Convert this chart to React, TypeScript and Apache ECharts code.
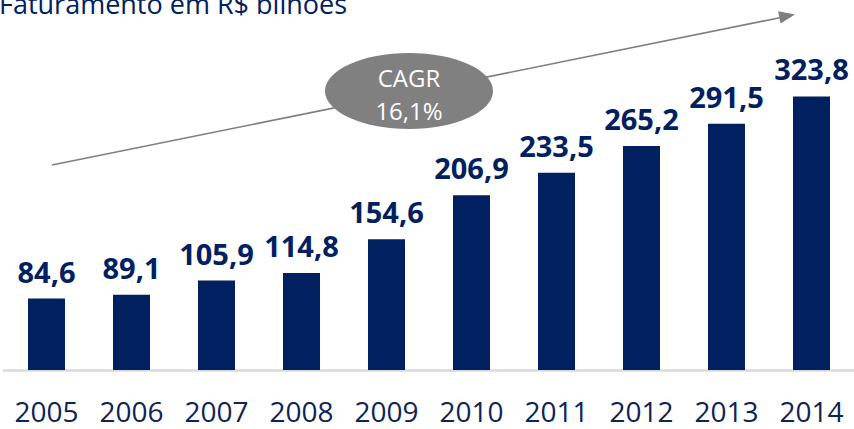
import React, { useEffect, useRef } from "react";
import * as echarts from "echarts";

const categories = ["2005", "2006", "2007", "2008", "2009", "2010", "2011", "2012", "2013", "2014"];
const revenue = [84.6, 89.1, 105.9, 114.8, 154.6, 206.9, 233.5, 265.2, 291.5, 323.8];
const titleText = "Faturamento em R$ bilhões";
const cagrLines = ["CAGR", "16,1%"];

const FONT = "'Open Sans', 'Noto Sans', sans-serif";
const NAVY = "#002060";

export default function App() {
  const ref = useRef<HTMLDivElement>(null);
  useEffect(() => {
    document.body.style.margin = "0";
    const chart = echarts.init(ref.current!, null, { renderer: "svg" });
    chart.setOption({
      animation: false,
      grid: { left: 4, right: 0, top: 32, bottom: 59 },
      xAxis: {
        type: "category",
        data: categories,
        axisLine: { show: true, lineStyle: { color: "#d9d9d9", width: 2.5 } },
        axisTick: { show: false },
        axisLabel: { interval: 0, color: "#0e2356", fontSize: 28, lineHeight: 24, fontFamily: FONT, margin: 29 },
      },
      yAxis: { type: "value", min: 0, max: 400, show: false, splitLine: { show: false } },
      series: [
        {
          type: "bar",
          data: revenue,
          barWidth: 37,
          itemStyle: { color: NAVY },
          label: {
            show: true,
            position: "top",
            distance: 13,
            color: NAVY,
            fontSize: 29,
            fontWeight: "bold",
            fontFamily: FONT,
            formatter: (p: any) => String(p.value).replace(".", ","),
          },
        },
      ],
      graphic: [
        {
          type: "text",
          x: -1,
          y: 3,
          style: { text: titleText, fontSize: 27, fontFamily: FONT, fill: NAVY, verticalAlign: "middle" },
        },
        {
          type: "line",
          shape: { x1: 52, y1: 165, x2: 781, y2: 17.5 },
          style: { stroke: "#7f7f7f", lineWidth: 1.6 },
        },
        {
          type: "polygon",
          shape: { points: [[795, 14.5], [780.5, 23.5], [778.1, 11.2]] },
          style: { fill: "#7f7f7f" },
        },
        {
          type: "ellipse",
          shape: { cx: 409, cy: 91, rx: 84, ry: 38 },
          style: { fill: "#808080" },
        },
        {
          type: "text",
          x: 409,
          y: 77,
          style: { text: cagrLines[0], fontSize: 24, fontFamily: FONT, fill: "#ffffff", align: "center", verticalAlign: "middle" },
        },
        {
          type: "text",
          x: 409,
          y: 110,
          style: { text: cagrLines[1], fontSize: 24, fontFamily: FONT, fill: "#ffffff", align: "center", verticalAlign: "middle" },
        },
      ],
    });
    return () => chart.dispose();
  }, []);
  return <div ref={ref} style={{ width: 854, height: 429 }} />;
}
